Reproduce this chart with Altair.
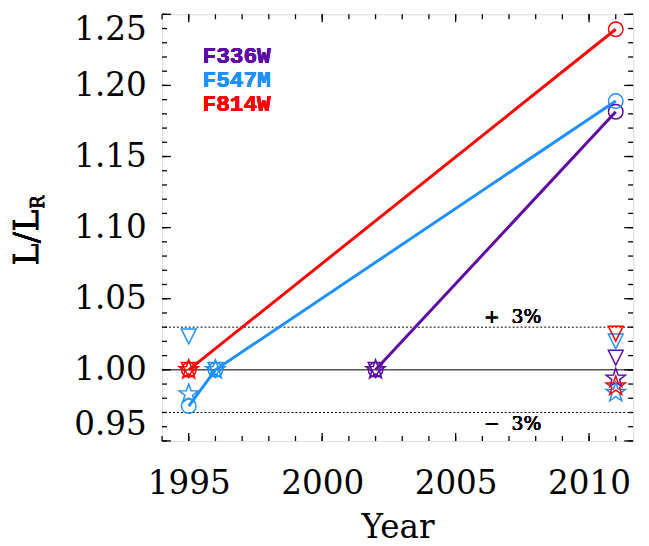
import altair as alt
import pandas as pd

# ---------------- data ----------------
filters = ["F336W", "F547M", "F814W"]
colors = ["#5E0AA5", "#1E90FF", "#FF0000"]

pt_filter = ["F336W", "F336W", "F547M", "F547M", "F547M", "F814W", "F814W"]
pt_year = [2002, 2011, 1995, 1996, 2011, 1995, 2011]

circle_val = [1.000, 1.1815, 0.9745, 1.000, 1.189, 1.000, 1.2395]
triangle_val = [1.000, 1.0085, 1.0235, 1.000, 1.020, 1.000, 1.0255]
star_val = [1.000, 0.994, 0.983, 1.000, 0.984, 1.000, 0.9885]

ref_vals = [0.97, 1.00, 1.03]
ref_kind = ["dot", "solid", "dot"]

x_major = [1995, 2000, 2005, 2010]
x_minor = list(range(1994, 2012))
y_major = [0.95, 1.00, 1.05, 1.10, 1.15, 1.20, 1.25]
y_minor = [round(0.95 + 0.01 * i, 2) for i in range(31)]

# ---------------- frames ----------------
circ_df = pd.DataFrame({"filter": pt_filter, "year": pt_year, "val": circle_val})
tri_df = pd.DataFrame({"filter": pt_filter, "year": pt_year, "val": triangle_val})
star_df = pd.DataFrame({"filter": pt_filter, "year": pt_year, "val": star_val})
ref_df = pd.DataFrame({"val": ref_vals, "kind": ref_kind})

W, H = 477, 432
xs = alt.Scale(domain=[1994, 2011.65], nice=False, zero=False)
ys = alt.Scale(domain=[0.95, 1.25], nice=False, zero=False)
cs = alt.Scale(domain=filters, range=colors)

SERIF = "DejaVu Serif"
TRI = "M-1,-1 L1,-1 L0,1 Z"
STAR = ("M0,-1 L0.235,-0.324 L0.951,-0.309 L0.380,0.124 L0.588,0.809 "
        "L0,0.4 L-0.588,0.809 L-0.380,0.124 L-0.951,-0.309 L-0.235,-0.324 Z")


def X(axis=None, field="year:Q"):
    return alt.X(field, scale=xs, axis=axis)


def Y(axis=None, field="val:Q"):
    return alt.Y(field, scale=ys, axis=axis)


col = alt.Color("filter:N", scale=cs, legend=None)

# reference lines
dotted = alt.Chart(ref_df).transform_filter("datum.kind == 'dot'").mark_rule(
    color="black", strokeWidth=1, strokeDash=[2, 2]
).encode(y=Y())
solid = alt.Chart(ref_df).transform_filter("datum.kind == 'solid'").mark_rule(
    color="#555555", strokeWidth=1.6
).encode(y=Y())

lines = alt.Chart(circ_df).mark_line(strokeWidth=3).encode(
    x=X(), y=Y(), color=col, detail="filter:N"
)
circles = alt.Chart(circ_df).mark_point(
    shape="circle", size=216, filled=False, strokeWidth=1.5, opacity=1
).encode(x=X(), y=Y(), color=col)
tris = alt.Chart(tri_df).mark_point(
    shape=TRI, size=225, filled=False, strokeWidth=1.5, opacity=1
).encode(x=X(), y=Y(), color=col)
stars = alt.Chart(star_df).mark_point(
    shape=STAR, size=420, filled=False, strokeWidth=1.5, opacity=1
).encode(x=X(), y=Y(), color=col)

# main labelled axes
main_axes = alt.Chart(circ_df).mark_point(opacity=0).encode(
    x=X(alt.Axis(values=x_major, format="d", orient="bottom", labelFont=SERIF,
                 labelFontSize=33, labelColor="black", labelPadding=27,
                 labelFlush=False, ticks=False, tickSize=0, domain=False,
                 grid=False, title="Year", titleFont=SERIF, titleFontSize=33,
                 titleFontWeight="normal", titleColor="black",
                 titleBaseline="alphabetic", titleY=98)),
    y=Y(alt.Axis(values=y_major, format=".2f", orient="left", labelFont=SERIF,
                 labelFontSize=33, labelColor="black", labelPadding=16,
                 labelFlush=True, ticks=False, tickSize=0, domain=False,
                 grid=False, title=None)),
)

# inward tick marks on all four sides
xt_major = pd.DataFrame({"t": x_major})
xt_minor = pd.DataFrame({"t": x_minor})
yt_major = pd.DataFrame({"t": y_major})
yt_minor = pd.DataFrame({"t": y_minor})


def xticks(df, length, top):
    y0, y1 = (0, length) if top else (H, H - length)
    return alt.Chart(df).mark_rule(color="black", strokeWidth=1.3).encode(
        x=X(field="t:Q"), y=alt.value(y0), y2=alt.value(y1))


def yticks(df, length, right):
    x0, x1 = (W, W - length) if right else (0, length)
    return alt.Chart(df).mark_rule(color="black", strokeWidth=1.3).encode(
        y=Y(field="t:Q"), x=alt.value(x0), x2=alt.value(x1))


tick_layers = [
    xticks(xt_major, 8, False), xticks(xt_major, 8, True),
    xticks(xt_minor, 5, False), xticks(xt_minor, 5, True),
    yticks(yt_major, 9, False), yticks(yt_major, 9, True),
    yticks(yt_minor, 5, False), yticks(yt_minor, 5, True),
]

# legend text
legend_layers = []
for i, (f, c) in enumerate(zip(filters, colors)):
    legend_layers.append(
        alt.Chart(circ_df).mark_text(
            text=f, align="left", baseline="middle", font="Liberation Mono",
            fontSize=23, fontWeight="bold", color=c
        ).encode(x=alt.value(41), y=alt.value(42 + 24.5 * i))
    )

ann_plus = alt.Chart(circ_df).mark_text(
    text="+\u00a0\u00a03%", align="center", baseline="middle", font=SERIF,
    fontSize=19, color="black"
).encode(x=alt.value(355), y=alt.value(307))
ann_minus = alt.Chart(circ_df).mark_text(
    text="\u2212\u00a0\u00a03%", align="center", baseline="middle", font=SERIF,
    fontSize=19, color="black"
).encode(x=alt.value(355), y=alt.value(415))

ytitle = alt.Chart(circ_df).mark_text(
    text="L/L", angle=270, align="center", baseline="alphabetic", font=SERIF,
    fontSize=34, color="black"
).encode(x=alt.value(-126), y=alt.value(226))
ytitle_sub = alt.Chart(circ_df).mark_text(
    text="R", angle=270, align="left", baseline="alphabetic", font=SERIF,
    fontSize=18, color="black"
).encode(x=alt.value(-120), y=alt.value(197))

chart = alt.layer(
    dotted, solid, lines, circles, tris, stars,
    main_axes, *tick_layers,
    *legend_layers, ann_plus, ann_minus, ytitle, ytitle_sub
).resolve_axis(
    x="independent", y="independent"
).properties(
    width=W, height=H,
    padding={"left": 156, "top": 3, "right": 8, "bottom": 103},
    autosize=alt.AutoSizeParams(type="none"),
).configure_view(
    stroke="black", strokeWidth=1.5
).configure(background="white")

chart.save("out.html", embed_options={"renderer": "svg", "actions": False})
